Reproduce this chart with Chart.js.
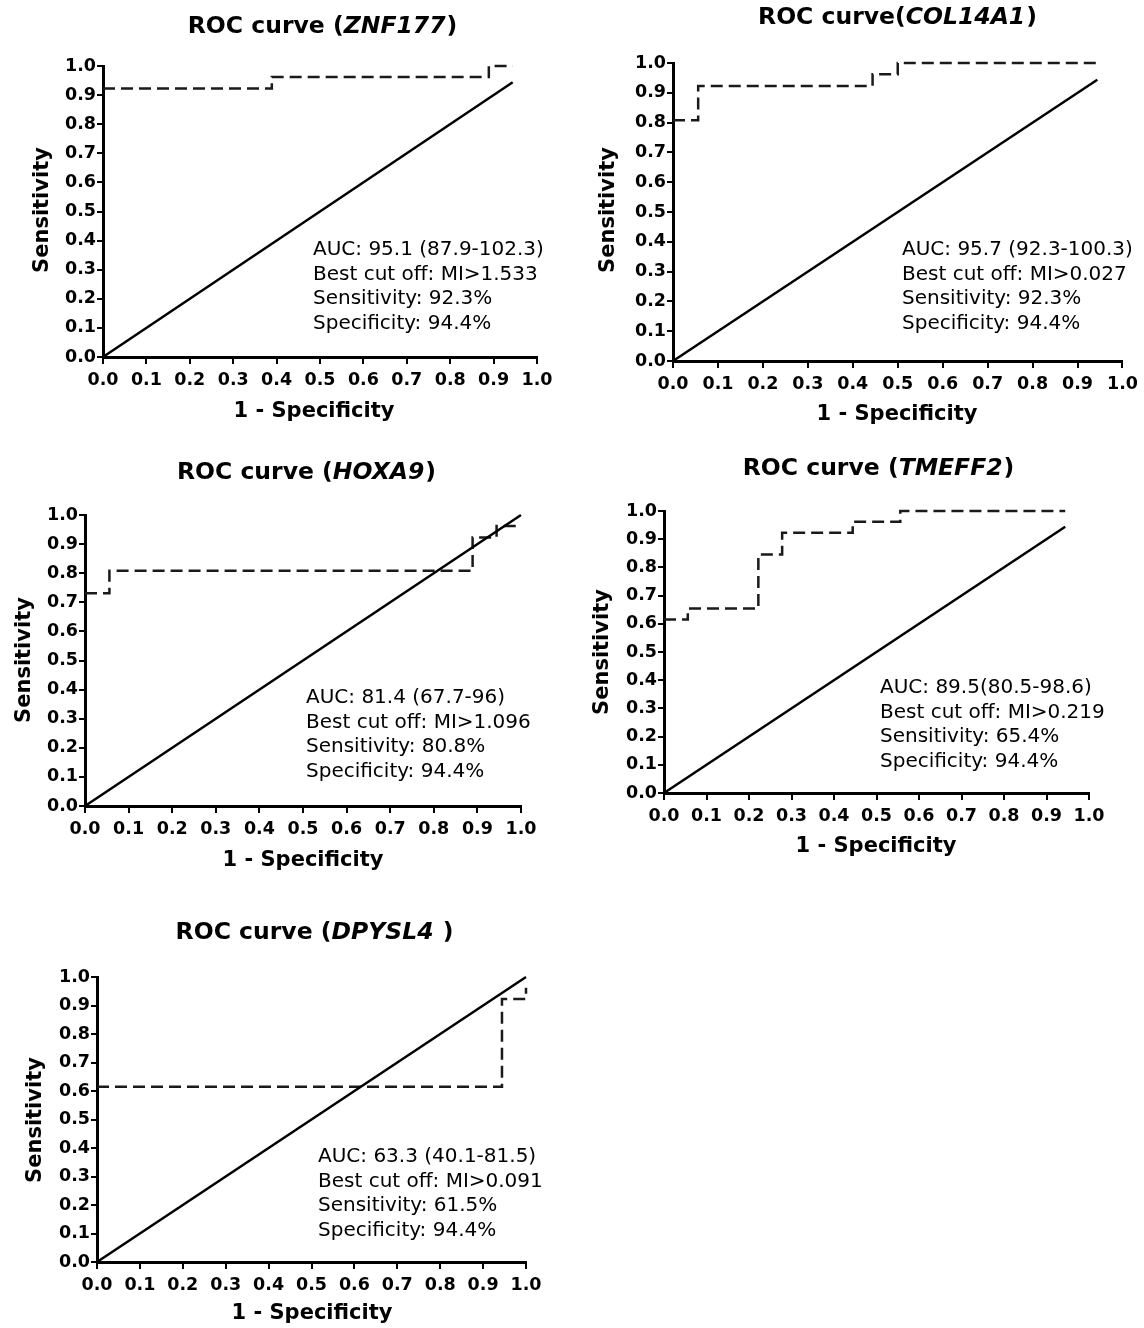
<!DOCTYPE html>
<html>
<head>
<meta charset="utf-8">
<title>ROC curves</title>
<script src="https://cdn.jsdelivr.net/npm/chart.js@4.4.1/dist/chart.umd.min.js"></script>
<style>
  html, body { margin: 0; padding: 0; background: #fff; }
  body { width: 1144px; height: 1328px; position: relative; overflow: hidden; }
  canvas { position: absolute; }
</style>
</head>
<body>
<canvas id="roc0"></canvas>
<canvas id="roc1"></canvas>
<canvas id="roc2"></canvas>
<canvas id="roc3"></canvas>
<canvas id="roc4"></canvas>
<script>
// ---- data ----
const genes = ['ZNF177', 'COL14A1', 'HOXA9', 'TMEFF2', 'DPYSL4'];

// 1 - specificity / sensitivity vertices of each step curve
const fprZNF177 = [0, 0.389, 0.389, 0.889, 0.889, 0.944];
const tprZNF177 = [0.923, 0.923, 0.962, 0.962, 1.0, 1.0];

const fprCOL14A1 = [0, 0.056, 0.056, 0.444, 0.444, 0.5, 0.5, 0.944];
const tprCOL14A1 = [0.808, 0.808, 0.923, 0.923, 0.962, 0.962, 1.0, 1.0];

const fprHOXA9 = [0, 0.056, 0.056, 0.889, 0.889, 0.944, 0.944, 1.0];
const tprHOXA9 = [0.731, 0.731, 0.808, 0.808, 0.923, 0.923, 0.962, 0.962];

const fprTMEFF2 = [0, 0.056, 0.056, 0.222, 0.222, 0.278, 0.278, 0.444, 0.444, 0.556, 0.556, 0.944];
const tprTMEFF2 = [0.615, 0.615, 0.654, 0.654, 0.846, 0.846, 0.923, 0.923, 0.962, 0.962, 1.0, 1.0];

const fprDPYSL4 = [0, 0.944, 0.944, 1.0, 1.0];
const tprDPYSL4 = [0.615, 0.615, 0.923, 0.923, 0.962];

// where the reference (chance) line stops
const refLineEnd = [0.944, 0.944, 1.0, 0.944, 1.0];

const titlePrefix = ['ROC curve (', 'ROC curve(', 'ROC curve (', 'ROC curve (', 'ROC curve ('];
const titleSuffix = [')', ')', ')', ')', ' )'];

const aucText = ['AUC: 95.1 (87.9-102.3)', 'AUC: 95.7 (92.3-100.3)', 'AUC: 81.4 (67.7-96)', 'AUC: 89.5(80.5-98.6)', 'AUC: 63.3 (40.1-81.5)'];
const cutText = ['Best cut off: MI>1.533', 'Best cut off: MI>0.027', 'Best cut off: MI>1.096', 'Best cut off: MI>0.219', 'Best cut off: MI>0.091'];
const sensText = ['Sensitivity: 92.3%', 'Sensitivity: 92.3%', 'Sensitivity: 80.8%', 'Sensitivity: 65.4%', 'Sensitivity: 61.5%'];
const specText = ['Specificity: 94.4%', 'Specificity: 94.4%', 'Specificity: 94.4%', 'Specificity: 94.4%', 'Specificity: 94.4%'];

const xAxisTitle = '1 - Specificity';
const yAxisTitle = 'Sensitivity';

const fprs = [fprZNF177, fprCOL14A1, fprHOXA9, fprTMEFF2, fprDPYSL4];
const tprs = [tprZNF177, tprCOL14A1, tprHOXA9, tprTMEFF2, tprDPYSL4];

// ---- page layout (page pixels) ----
// box: canvas x,y,w,h   plot: left,top,right,bottom
const layout = [
  { box: [0, 0, 570, 440],    plot: [103, 66, 537, 357],   title: [322, 27],  yTitle: [43, 210],  xTitle: [314, 412],  note: [313, 250] },
  { box: [572, 0, 572, 440],  plot: [673, 63, 1125, 361],  title: [897, 18],  yTitle: [609, 210], xTitle: [897, 415],  note: [902, 250] },
  { box: [0, 445, 570, 440],  plot: [85, 515, 521, 806],   title: [306, 473], yTitle: [25, 660],  xTitle: [303, 861],  note: [306, 698] },
  { box: [572, 445, 572, 440],plot: [664, 511, 1089, 793], title: [878, 469], yTitle: [603, 652], xTitle: [876, 847],  note: [880, 688] },
  { box: [0, 905, 570, 423],  plot: [97, 977, 526, 1262],  title: [314, 933], yTitle: [36, 1120], xTitle: [312, 1314], note: [318, 1157] }
];

const FONT = "'DejaVu Sans', 'Liberation Sans', Arial, sans-serif";
const lineGap = 24.6;

function textPlugin(i) {
  const L = layout[i];
  const ox = L.box[0], oy = L.box[1];
  return {
    id: 'rocText' + i,
    afterDraw(chart) {
      const ctx = chart.ctx;
      ctx.save();
      ctx.fillStyle = '#000';
      ctx.textBaseline = 'middle';

      // title: mixed bold / bold italic
      const fBold = 'bold 23.5px ' + FONT;
      const fItal = 'italic bold 23.5px ' + FONT;
      ctx.font = fBold;
      const w1 = ctx.measureText(titlePrefix[i]).width;
      const w3 = ctx.measureText(titleSuffix[i]).width;
      ctx.font = fItal;
      const w2 = ctx.measureText(genes[i]).width;
      let tx = L.title[0] - ox - (w1 + w2 + w3) / 2;
      const ty = L.title[1] - oy;
      ctx.textAlign = 'left';
      ctx.font = fBold;
      ctx.fillText(titlePrefix[i], tx, ty);
      ctx.font = fItal;
      ctx.fillText(genes[i], tx + w1, ty);
      ctx.font = fBold;
      ctx.fillText(titleSuffix[i], tx + w1 + w2 + 1, ty);

      // axis titles
      ctx.font = 'bold 21px ' + FONT;
      ctx.textAlign = 'center';
      ctx.fillText(xAxisTitle, L.xTitle[0] - ox, L.xTitle[1] - oy);
      ctx.save();
      ctx.translate(L.yTitle[0] - ox, L.yTitle[1] - oy);
      ctx.rotate(-Math.PI / 2);
      ctx.fillText(yAxisTitle, 0, 0);
      ctx.restore();

      // annotation block
      ctx.font = '20px ' + FONT;
      ctx.textAlign = 'left';
      const lines = [aucText[i], cutText[i], sensText[i], specText[i]];
      lines.forEach(function (s, k) {
        ctx.fillText(s, L.note[0] - ox, L.note[1] - oy + k * lineGap);
      });
      ctx.restore();
    }
  };
}

function axisOpts(isX, size) {
  return {
    type: 'linear',
    min: 0,
    max: 1,
    ticks: {
      stepSize: 0.1,
      autoSkip: false,
      maxRotation: 0,
      color: '#000',
      padding: isX ? 6 : 1,
      font: { family: FONT, size: 17.5, weight: 'bold' },
      callback: function (v) { return Number(v).toFixed(1); }
    },
    grid: { drawOnChartArea: false, color: '#000', lineWidth: 2, tickLength: isX ? 7 : 6 },
    border: { display: true, color: '#000', width: 3 },
    afterFit: function (scale) {
      if (isX) scale.height = size; else scale.width = size;
    }
  };
}

for (let i = 0; i < genes.length; i++) {
  const L = layout[i];
  const canvas = document.getElementById('roc' + i);
  canvas.width = L.box[2];
  canvas.height = L.box[3];
  canvas.style.left = L.box[0] + 'px';
  canvas.style.top = L.box[1] + 'px';
  canvas.style.width = L.box[2] + 'px';
  canvas.style.height = L.box[3] + 'px';

  const yW = L.plot[0] - L.box[0];
  const padTop = L.plot[1] - L.box[1];
  const padRight = L.box[0] + L.box[2] - L.plot[2];
  const xH = L.box[1] + L.box[3] - L.plot[3];

  const rocPoints = fprs[i].map(function (x, k) { return { x: x, y: tprs[i][k] }; });
  const refPoints = [{ x: 0, y: 0 }, { x: refLineEnd[i], y: refLineEnd[i] }];

  new Chart(canvas, {
    type: 'scatter',
    data: {
      datasets: [{
        label: 'Reference',
        data: refPoints,
        showLine: true,
        borderColor: '#000',
        borderWidth: 2.5,
        pointRadius: 0,
        clip: false
      }, {
        label: genes[i],
        data: rocPoints,
        showLine: true,
        borderColor: '#1a1a1a',
        borderWidth: 2.5,
        borderDash: [12, 6],
        pointRadius: 0,
        tension: 0,
        clip: false
      }]
    },
    options: {
      responsive: false,
      animation: false,
      layout: { padding: { top: padTop, right: padRight, left: 0, bottom: 0 } },
      plugins: {
        legend: { display: false },
        tooltip: { enabled: false },
        title: { display: false }
      },
      scales: {
        x: axisOpts(true, xH),
        y: axisOpts(false, yW)
      }
    },
    plugins: [textPlugin(i)]
  });
}
</script>
</body>
</html>
